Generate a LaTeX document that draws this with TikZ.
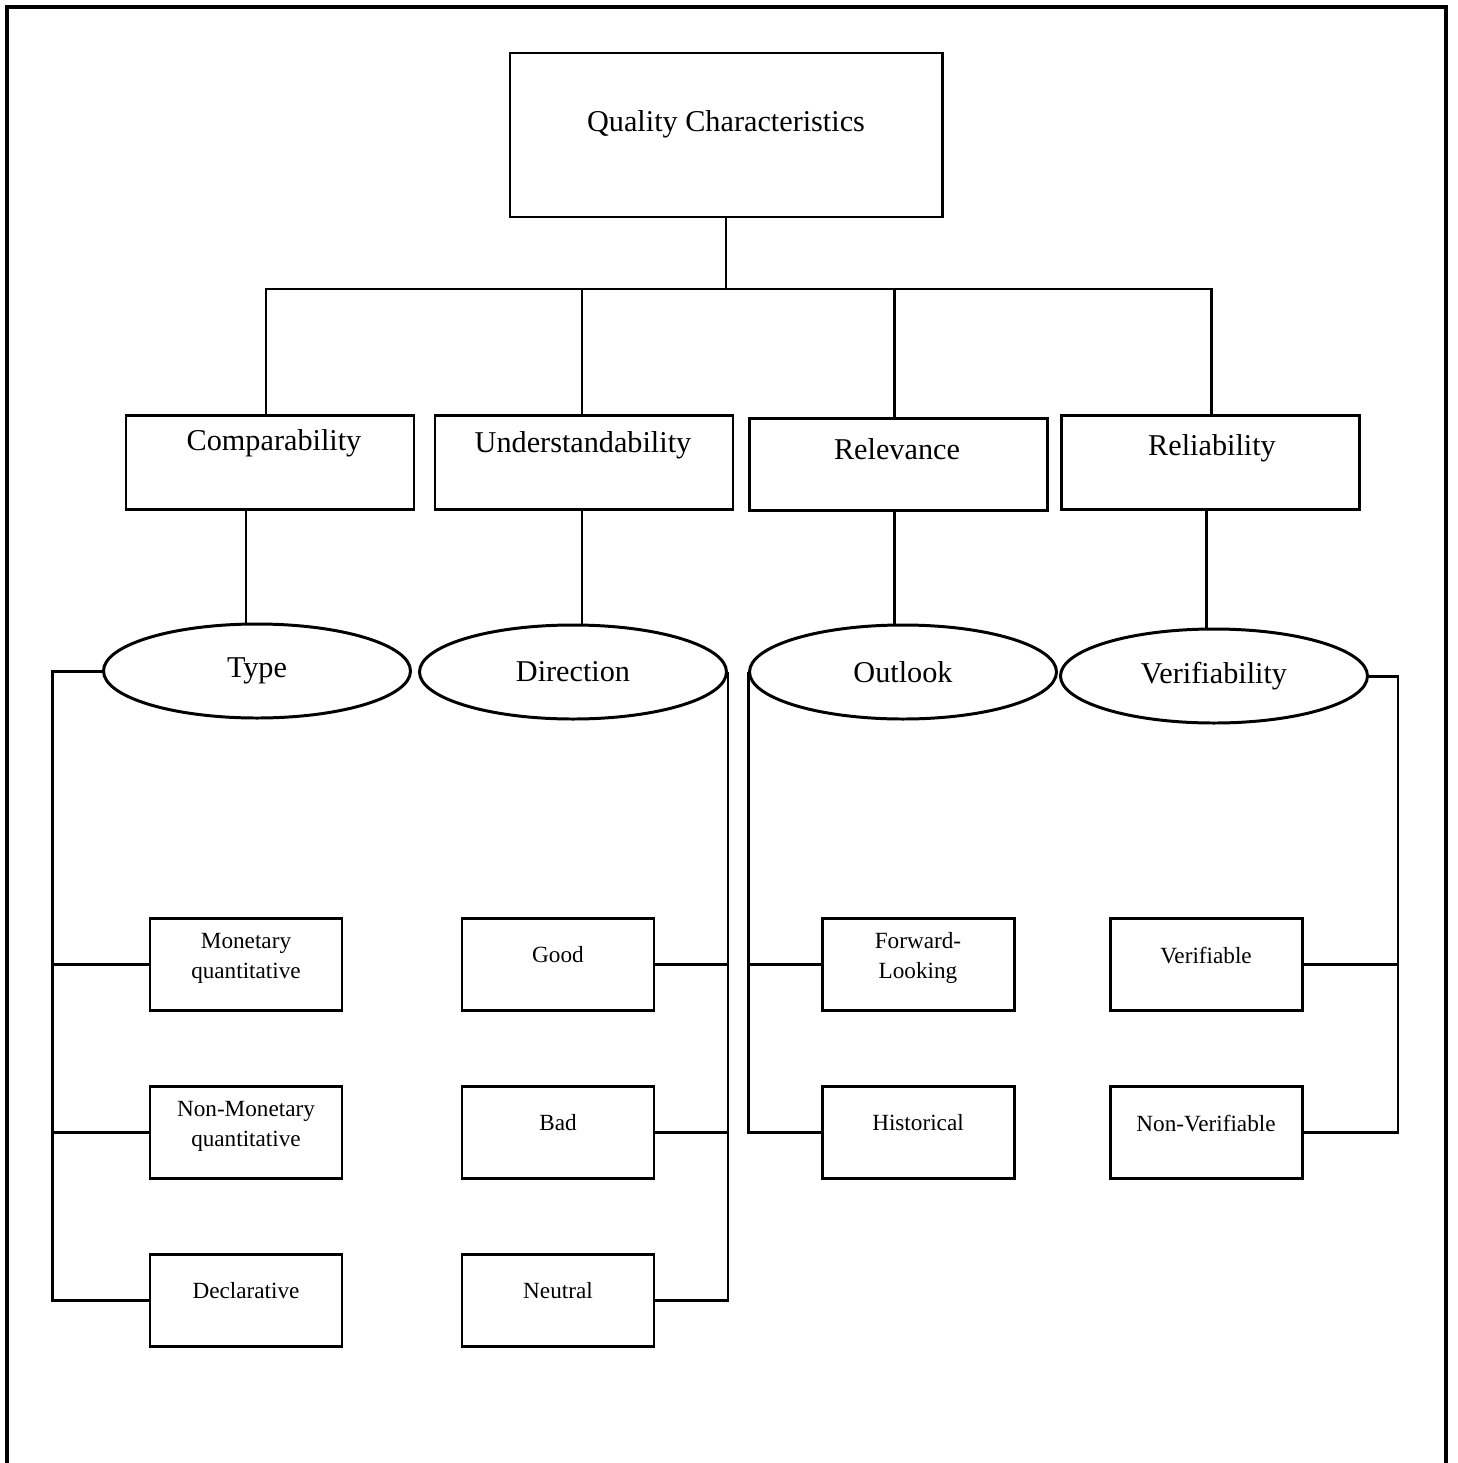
\documentclass[tikz,border=0pt]{standalone}
\usepackage{fontspec}
\setmainfont{Liberation Serif}
\usepackage{tikz}
\usetikzlibrary{shapes.geometric}

\begin{document}
\begin{tikzpicture}[line width=0.85pt,
        topbox/.style={draw, minimum width=4.32cm, minimum height=1.64cm, inner sep=0pt},
        midbox/.style={draw, minimum width=2.98cm, minimum height=0.94cm, inner sep=0pt},
        leafbox/.style={draw, minimum width=1.92cm, minimum height=0.92cm, inner sep=0pt},
        oval/.style={draw, ellipse, minimum width=3.07cm, minimum height=0.94cm, inner sep=0pt,
            font=\fontsize{8.6}{10}\selectfont},
        bigtxt/.style={font=\fontsize{8.6}{10}\selectfont, inner sep=0pt},
        smalltxt/.style={font=\fontsize{6.6}{8.5}\selectfont, align=center, inner sep=0pt}]
        \useasboundingbox (0,0) rectangle (14.57,-14.63);
        % frame, open at the bottom
        \draw[line width=1pt] (0.07,-14.63) |- (14.46,-0.07) -- (14.46,-14.63);

        % top
        \node[topbox] (title) at (7.26,-1.35) {};
        \node[bigtxt] at ([yshift=0.11cm]title.center) {Quality Characteristics};

        % second level
        \node[midbox, minimum width=2.88cm] (comp) at (2.70,-4.62) {};
        \node[midbox] (und)  at (5.84,-4.625) {};
        \node[midbox, minimum height=0.92cm] (rel) at (8.98,-4.64) {};
        \node[midbox] (reli) at (12.10,-4.62) {};
        \node[bigtxt] at (2.74,-4.43) {Comparability};
        \node[bigtxt] at (5.83,-4.45) {Understandability};
        \node[bigtxt] at (8.97,-4.49) {Relevance};
        \node[bigtxt] at (12.12,-4.48) {Reliability};

        % ellipses
        \node[oval] (type) at (2.57,-6.71) {Type};
        \node[oval] (dir)  at (5.73,-6.72) {Direction};
        \node[oval] (out)  at (9.03,-6.72) {Outlook};
        \node[oval] (ver)  at (12.14,-6.76) {Verifiability};

        % leaves
        \node[leafbox] (mon)  at (2.46,-9.64) {};
        \node[leafbox] (nmon) at (2.46,-11.32) {};
        \node[leafbox] (decl) at (2.46,-13.00) {};
        \node[leafbox] (good) at (5.58,-9.64) {};
        \node[leafbox] (bad)  at (5.58,-11.32) {};
        \node[leafbox] (neut) at (5.58,-13.00) {};
        \node[leafbox] (fwd)  at (9.18,-9.64) {};
        \node[leafbox] (hist) at (9.18,-11.32) {};
        \node[leafbox] (vbl)  at (12.06,-9.64) {};
        \node[leafbox] (nver) at (12.06,-11.32) {};
        \node[smalltxt] at ([yshift=0.06cm]mon.center) {Monetary\\quantitative};
        \node[smalltxt] at ([yshift=0.06cm]nmon.center) {Non-Monetary\\quantitative};
        \node[smalltxt] at ([yshift=0.09cm]decl.center) {Declarative};
        \node[smalltxt] at ([yshift=0.09cm]good.center) {Good};
        \node[smalltxt] at ([yshift=0.09cm]bad.center) {Bad};
        \node[smalltxt] at ([yshift=0.09cm]neut.center) {Neutral};
        \node[smalltxt] at ([yshift=0.06cm]fwd.center) {Forward-\\Looking};
        \node[smalltxt] at ([yshift=0.09cm]hist.center) {Historical};
        \node[smalltxt] at ([yshift=0.09cm]vbl.center) {Verifiable};
        \node[smalltxt] at ([yshift=0.09cm]nver.center) {Non-Verifiable};

        % tree lines
        \coordinate (bus) at (7.26,-2.89);
        \coordinate (ca) at (2.66,0);
        \coordinate (cb) at (5.82,0);
        \coordinate (cc) at (8.94,0);
        \coordinate (cd) at (12.11,0);
        \draw (title.south) -- (bus);
        \draw (comp.north -| ca) |- (bus) -| (reli.north -| cd);
        \draw (und.north -| cb) -- (bus -| cb);
        \draw (rel.north -| cc) -- (bus -| cc);
        \draw (comp.south -| mon.north) -- (type.north -| mon.north);
        \draw (und.south -| cb) -- (dir.north -| cb);
        \draw (rel.south -| cc) -- (out.north -| cc);
        \draw (reli.south -| vbl.north) -- (ver.north -| vbl.north);

        % columns
        \draw (type.west) -- ++(-0.50,0) coordinate (tl) |- (decl.west);
        \draw (mon.west) -- (mon.west -| tl);
        \draw (nmon.west) -- (nmon.west -| tl);
        \draw (dir.east) |- (neut.east);
        \draw (good.east) -- (good.east -| dir.east);
        \draw (bad.east) -- (bad.east -| dir.east);
        \draw (out.west) |- (hist.west);
        \draw (fwd.west) -- (fwd.west -| out.west);
        \draw (ver.east) -- ++(0.29,0) coordinate (vr) |- (nver.east);
        \draw (vbl.east) -- (vbl.east -| vr);
    \end{tikzpicture}
\end{document}
